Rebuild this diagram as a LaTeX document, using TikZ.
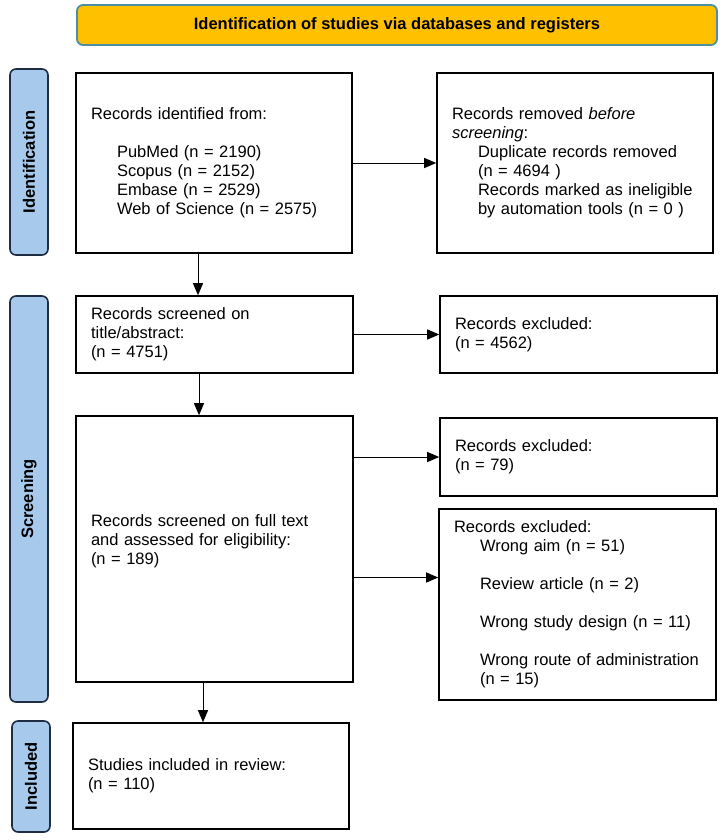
\documentclass[tikz,border=0pt]{standalone}
\usepackage{fontspec}
\setmainfont{Liberation Sans}
\usetikzlibrary{arrows.meta,calc}
\definecolor{bannerfill}{HTML}{FFC000}
\definecolor{bannerline}{HTML}{4A8FA3}
\definecolor{labfill}{HTML}{A7C9EC}
\definecolor{labline}{HTML}{1E2D44}
\begin{document}
\begin{tikzpicture}[x=1pt,y=-1pt,
  box/.style={draw, line width=1.6pt, align=left, inner xsep=15pt, inner ysep=0pt,
    font=\fontsize{16.5}{19}\selectfont},
  lab/.style={draw=labline, fill=labfill, line width=1.6pt, rounded corners=6pt,
    font=\fontsize{16.5}{19}\selectfont\bfseries, inner sep=0pt, rotate=90},
  banner/.style={draw=bannerline, fill=bannerfill, line width=1.8pt, rounded corners=6pt,
    font=\fontsize{16.5}{19}\selectfont\bfseries, inner sep=0pt},
  arr/.style={line width=1pt, -{Triangle[length=12pt,width=10pt]}}]
\useasboundingbox (0,0) rectangle (723,840);
\fill[white] (0,0) rectangle (723,840);

\node[banner, minimum width=640pt, minimum height=40pt] (ban) at (397,25)
  {Identification of studies via databases and registers};

\node[lab, minimum width=186pt, minimum height=38pt] (idL) at (29,162) {Identification};
\node[lab, minimum width=406pt, minimum height=38pt] (scL) at (29,499) {Screening};
\node[lab, minimum width=111pt, minimum height=38pt] (inL) at (31,776.5) {Included};

\node[box, minimum width=276pt, minimum height=180pt, text width=246pt] (id) at (214,163)
  {Records identified from:\\[19pt]
   \hspace*{26pt}PubMed (n = 2190)\\
   \hspace*{26pt}Scopus (n = 2152)\\
   \hspace*{26pt}Embase (n = 2529)\\
   \hspace*{26pt}Web of Science (n = 2575)};

\node[box, minimum width=276pt, minimum height=180pt, text width=246pt] (rem) at (575,163)
  {Records removed \textit{before}\\
   \textit{screening}:\\
   \hspace*{26pt}\mbox{Duplicate records removed}\\
   \hspace*{26pt}(n = 4694 )\\
   \hspace*{26pt}\mbox{Records marked as ineligible}\\
   \hspace*{26pt}\mbox{by automation tools (n = 0 )}};

\node[box, minimum width=277pt, minimum height=77pt, text width=247pt] (scr) at (214.5,334.5)
  {Records screened on\\ title/abstract:\\ (n = 4751)};

\node[box, minimum width=277pt, minimum height=77pt, text width=247pt] (ex1) at (578.5,334.5)
  {Records excluded:\\ (n = 4562)};

\node[box, minimum width=277pt, minimum height=266pt, text width=247pt] (ft) at (214.5,549)
  {Records screened on full text\\ and assessed for eligibility:\\ (n = 189)\\[-1pt]\mbox{}};

\node[box, minimum width=277pt, minimum height=78pt, text width=247pt] (ex2) at (578.5,457)
  {Records excluded:\\ (n = 79)};

\node[box, minimum width=277pt, minimum height=191pt, text width=247pt] (ex3) at (577.5,604.5)
  {Records excluded:\\
   \hspace*{26pt}Wrong aim (n = 51)\\[19pt]
   \hspace*{26pt}Review article (n = 2)\\[19pt]
   \hspace*{26pt}\mbox{Wrong study design (n = 11)}\\[19pt]
   \hspace*{26pt}\mbox{Wrong route of administration}\\
   \hspace*{26pt}(n = 15)};

\node[box, minimum width=276pt, minimum height=106pt, text width=246pt] (inc) at (211,776)
  {Studies included in review:\\ (n = 110)};

\coordinate (v1) at ([xshift=-16pt]id.south);
\coordinate (v2) at ([xshift=-15.5pt]scr.south);
\coordinate (v3) at ([xshift=-11.5pt]ft.south);
\coordinate (a3) at ([yshift=27pt]ex3.west);

\draw[arr] (v1) -- (v1 |- scr.north);
\draw[arr] (v2) -- (v2 |- ft.north);
\draw[arr] (v3) -- (v3 |- inc.north);
\draw[arr] (id.east) -- (rem.west);
\draw[arr] (scr.east) -- (ex1.west);
\draw[arr] (ft.east |- ex2.west) -- (ex2.west);
\draw[arr] (ft.east |- a3) -- (a3);
\end{tikzpicture}
\end{document}
